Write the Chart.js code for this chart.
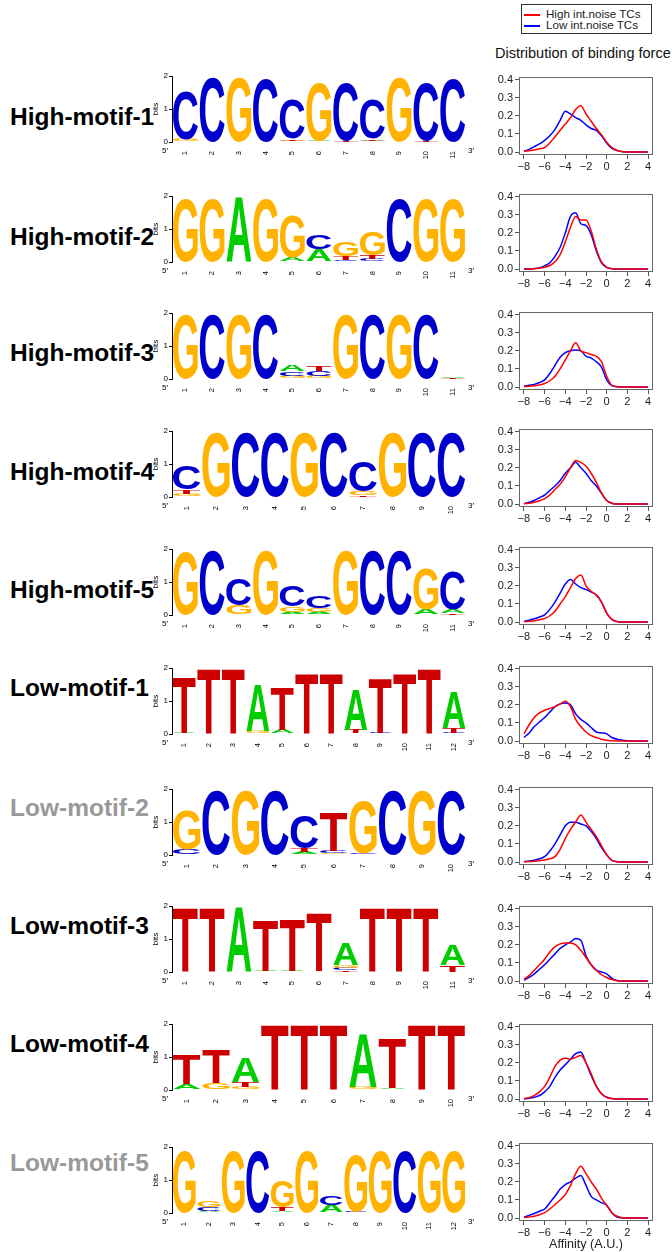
<!DOCTYPE html>
<html>
<head>
<meta charset="utf-8">
<script src="https://cdn.jsdelivr.net/npm/chart.js"></script>
<style>
  body { margin: 0; background: #fff; }
  #page { position: relative; width: 672px; height: 1252px; overflow: hidden; font-family: "Liberation Sans", Arial, sans-serif; }
  .motif { position: absolute; left: 10px; font-weight: bold; font-size: 24.5px; line-height: 28px; color: #000; white-space: nowrap; }
  .motif.gray { color: #999; }
  canvas { position: absolute; }
  #legend { position: absolute; left: 521px; top: 4px; width: 129px; height: 28px; border: 1px solid #333; font-size: 11.6px; }
  #legend div { position: absolute; left: 24px; line-height: 12px; white-space: nowrap; color: #222; }
  #legend span { position: absolute; left: -22px; top: 6px; width: 16px; height: 1.5px; }
  #distTitle { position: absolute; left: 495px; top: 44px; font-size: 14.5px; line-height: 18px; white-space: nowrap; color: #111; }
</style>
</head>
<body>
<div id="page">
  <div id="legend">
    <div style="top:3px"><span style="background:#ff0000"></span>High int.noise TCs</div>
    <div style="top:14px"><span style="background:#0000ff"></span>Low int.noise TCs</div>
  </div>
  <div id="distTitle">Distribution of binding force</div>
</div>
<script>
// ---- motif logos (bits per base, per position) ----
const BASES = ['A', 'C', 'G', 'T'];
const BASE_COLORS = { A: '#00cc00', C: '#0000cc', G: '#ffb300', T: '#cc0000' };

const motifNames = ['High-motif-1', 'High-motif-2', 'High-motif-3', 'High-motif-4', 'High-motif-5',
                    'Low-motif-1', 'Low-motif-2', 'Low-motif-3', 'Low-motif-4', 'Low-motif-5'];
const motifGray = [false, false, false, false, false, false, true, false, false, true];

const high1Bits = {
  A: [0, 0, 0, 0, 0, 0.03, 0, 0.04, 0, 0, 0],
  C: [1.47, 1.97, 0, 1.95, 1.2, 0, 1.74, 1.2, 0, 1.74, 1.95],
  G: [0.08, 0, 1.97, 0, 0.04, 1.76, 0, 0, 1.97, 0, 0],
  T: [0, 0, 0, 0, 0.05, 0, 0.03, 0.05, 0, 0.03, 0]
};
const high2Bits = {
  A: [0, 0, 1.97, 0, 0.12, 0.38, 0, 0, 0, 0, 0],
  C: [0, 0, 0, 0, 0, 0.42, 0.06, 0.08, 1.95, 0, 0],
  G: [1.95, 1.95, 0, 1.95, 1.26, 0, 0.42, 0.7, 0, 1.95, 1.95],
  T: [0, 0, 0, 0, 0, 0, 0.12, 0.13, 0, 0, 0]
};
const high3Bits = {
  A: [0, 0, 0, 0, 0.2, 0, 0, 0, 0, 0, 0.05],
  C: [0, 1.97, 0, 1.97, 0.13, 0.14, 0, 1.97, 0, 1.97, 0],
  G: [1.97, 0, 1.97, 0, 0.1, 0.1, 1.97, 0, 1.97, 0, 0],
  T: [0, 0, 0, 0, 0, 0.16, 0, 0, 0, 0, 0.03]
};
const high4Bits = {
  A: [0, 0, 0, 0, 0, 0, 0, 0, 0, 0],
  C: [0.7, 0, 1.97, 1.97, 0, 1.97, 0.93, 0, 1.97, 1.97],
  G: [0.1, 1.97, 0, 0, 1.97, 0, 0.1, 1.97, 0, 0],
  T: [0.12, 0, 0, 0, 0, 0, 0.07, 0, 0, 0]
};
const high5Bits = {
  A: [0, 0, 0, 0, 0.1, 0.09, 0, 0, 0, 0.17, 0.12],
  C: [0, 1.98, 0.8, 0, 0.65, 0.35, 0, 1.96, 1.96, 0, 1.16],
  G: [1.92, 0, 0.3, 1.96, 0.15, 0.13, 1.96, 0, 0, 1.25, 0],
  T: [0, 0, 0, 0, 0, 0, 0, 0, 0, 0, 0.05]
};
const low1Bits = {
  A: [0.04, 0, 0, 1.41, 0.12, 0.02, 0, 1.22, 0.02, 0, 0, 1.1],
  C: [0, 0, 0, 0, 0, 0, 0.02, 0.02, 0.02, 0, 0, 0.03],
  G: [0, 0, 0, 0.08, 0, 0, 0, 0, 0, 0.02, 0, 0],
  T: [1.66, 1.95, 1.95, 0, 1.27, 1.8, 1.8, 0.1, 1.63, 1.8, 1.95, 0.14]
};
const low2Bits = {
  A: [0, 0, 0, 0, 0.08, 0, 0, 0, 0, 0],
  C: [0.18, 1.96, 0, 1.96, 0.98, 0.08, 0.05, 1.96, 0, 1.96],
  G: [1.2, 0, 1.96, 0, 0, 0.05, 1.6, 0, 1.96, 0],
  T: [0, 0, 0, 0, 0.12, 1.18, 0, 0, 0, 0]
};
const low3Bits = {
  A: [0, 0, 1.98, 0.03, 0.04, 0.02, 0.68, 0, 0, 0, 0.62],
  C: [0, 0, 0, 0, 0, 0, 0.07, 0, 0, 0, 0],
  G: [0, 0, 0, 0, 0, 0, 0.09, 0, 0, 0, 0],
  T: [1.93, 1.93, 0, 1.52, 1.56, 1.76, 0.06, 1.93, 1.93, 1.93, 0.22]
};
const low4Bits = {
  A: [0.18, 0, 0.73, 0, 0, 0, 1.6, 0.06, 0, 0],
  C: [0, 0, 0, 0, 0, 0, 0, 0, 0, 0],
  G: [0, 0.21, 0.08, 0, 0, 0, 0.08, 0, 0, 0],
  T: [0.9, 1.02, 0.15, 1.96, 1.96, 1.96, 0, 1.47, 1.96, 1.96]
};
const low5Bits = {
  A: [0, 0.05, 0, 0, 0.05, 0, 0.23, 0, 0, 0, 0, 0],
  C: [0, 0.13, 0, 1.9, 0, 0, 0.27, 0.05, 0, 1.9, 0, 0],
  G: [1.9, 0.19, 1.9, 0, 0.8, 1.9, 0, 1.7, 1.9, 0, 1.9, 1.9],
  T: [0, 0, 0, 0, 0.13, 0, 0, 0, 0, 0, 0, 0]
};

// ---- binding force densities ----
const affinityX = [-8, -7.5, -7, -6.5, -6, -5.5, -5, -4.5, -4, -3.5, -3, -2.5, -2, -1.5, -1, -0.5, 0, 0.5, 1, 1.5, 2, 2.5, 3, 3.5, 4];
const affinityTicks = [-8, -6, -4, -2, 0, 2, 4];
const densityTicks = [0, 0.1, 0.2, 0.3, 0.4];

const high1HighNoise = [.005, .008, .012, .018, .025, .05, .085, .12, .155, .19, .235, .255, .21, .17, .13, .095, .055, .025, .01, .003, 0, 0, 0, 0, 0];
const high1LowNoise  = [.005, .015, .03, .045, .065, .09, .125, .175, .225, .21, .19, .175, .15, .13, .12, .09, .05, .02, .008, .002, 0, 0, 0, 0, 0];
const high2HighNoise = [0, 0, .002, .005, .01, .02, .04, .08, .15, .23, .29, .27, .27, .21, .11, .04, .01, .002, 0, 0, 0, 0, 0, 0, 0];
const high2LowNoise  = [0, 0, .003, .008, .018, .035, .07, .12, .2, .29, .31, .25, .24, .19, .1, .035, .01, .002, 0, 0, 0, 0, 0, 0, 0];
const high3HighNoise = [.003, .005, .008, .012, .02, .035, .06, .1, .15, .2, .245, .2, .19, .18, .17, .14, .06, .01, .002, 0, 0, 0, 0, 0, 0];
const high3LowNoise  = [.005, .01, .015, .025, .04, .075, .12, .165, .19, .2, .205, .2, .17, .16, .14, .11, .04, .008, .002, 0, 0, 0, 0, 0, 0];
const high4HighNoise = [.002, .005, .01, .018, .03, .05, .08, .11, .15, .2, .24, .23, .21, .17, .12, .06, .02, .005, 0, 0, 0, 0, 0, 0, 0];
const high4LowNoise  = [.003, .01, .02, .035, .05, .075, .1, .13, .17, .2, .23, .2, .17, .13, .1, .06, .02, .005, 0, 0, 0, 0, 0, 0, 0];
const high5HighNoise = [.002, .004, .008, .013, .02, .035, .06, .1, .14, .19, .24, .26, .2, .17, .15, .11, .05, .015, .003, 0, 0, 0, 0, 0, 0];
const high5LowNoise  = [.005, .01, .018, .028, .04, .07, .11, .16, .21, .235, .21, .19, .18, .165, .15, .11, .05, .015, .003, 0, 0, 0, 0, 0, 0];
const low1HighNoise  = [.04, .09, .13, .155, .17, .18, .19, .205, .22, .19, .12, .08, .05, .03, .02, .01, .005, .002, 0, 0, 0, 0, 0, 0, 0];
const low1LowNoise   = [.02, .045, .08, .105, .13, .16, .19, .205, .21, .2, .15, .12, .1, .075, .05, .045, .04, .02, .01, .005, .002, 0, 0, 0, 0];
const low2HighNoise  = [.002, .003, .005, .008, .012, .018, .03, .07, .13, .18, .22, .26, .22, .18, .14, .09, .04, .01, .002, 0, 0, 0, 0, 0, 0];
const low2LowNoise   = [.003, .006, .01, .018, .03, .06, .1, .15, .2, .22, .22, .21, .2, .17, .13, .08, .04, .01, .002, 0, 0, 0, 0, 0, 0];
const low3HighNoise  = [.01, .03, .06, .09, .12, .16, .19, .205, .21, .21, .2, .17, .13, .09, .06, .035, .02, .008, .002, 0, 0, 0, 0, 0, 0];
const low3LowNoise   = [.005, .02, .04, .065, .09, .12, .15, .18, .2, .215, .235, .225, .14, .09, .06, .05, .04, .015, .003, 0, 0, 0, 0, 0, 0];
const low4HighNoise  = [.003, .008, .02, .04, .07, .12, .18, .215, .225, .22, .23, .24, .2, .14, .07, .03, .01, .003, 0, 0, 0, 0, 0, 0, 0];
const low4LowNoise   = [.001, .004, .01, .02, .04, .07, .12, .16, .19, .22, .25, .26, .2, .13, .07, .03, .01, .003, 0, 0, 0, 0, 0, 0, 0];
const low5HighNoise  = [.003, .006, .01, .018, .03, .05, .075, .1, .13, .18, .245, .285, .245, .2, .16, .11, .07, .03, .01, .002, 0, 0, 0, 0, 0];
const low5LowNoise   = [.005, .015, .025, .038, .05, .085, .12, .16, .185, .2, .22, .235, .18, .12, .1, .085, .07, .03, .006, .001, 0, 0, 0, 0, 0];

const motifBits = [high1Bits, high2Bits, high3Bits, high4Bits, high5Bits, low1Bits, low2Bits, low3Bits, low4Bits, low5Bits];
const highNoiseCurves = [high1HighNoise, high2HighNoise, high3HighNoise, high4HighNoise, high5HighNoise,
                         low1HighNoise, low2HighNoise, low3HighNoise, low4HighNoise, low5HighNoise];
const lowNoiseCurves = [high1LowNoise, high2LowNoise, high3LowNoise, high4LowNoise, high5LowNoise,
                        low1LowNoise, low2LowNoise, low3LowNoise, low4LowNoise, low5LowNoise];

// layout of the rows (pixel positions in the page)
const logoTop = [76, 196, 313, 431, 549, 668, 789, 906, 1024, 1147];   // y of the "2 bits" line
const densityZero = [152, 269, 387, 504, 622, 741, 862, 981, 1099, 1218]; // y of density 0.0
const labelCenter = [117, 237, 353, 472, 590, 688, 808, 926, 1044, 1163];

const page = document.getElementById('page');
const FONT = '"Liberation Sans", Arial, sans-serif';

function makeCanvas(left, top, w, h) {
  const c = document.createElement('canvas');
  c.width = w; c.height = h;
  c.style.left = left + 'px'; c.style.top = top + 'px';
  c.style.width = w + 'px'; c.style.height = h + 'px';
  page.appendChild(c);
  return c;
}

// draws the letter glyph stretched into the bar box
function drawLetter(ctx, ch, x0, y0, w, h) {
  ctx.save();
  ctx.font = 'bold 200px ' + FONT;
  ctx.textBaseline = 'alphabetic';
  ctx.textAlign = 'left';
  const m = ctx.measureText(ch);
  const gl = m.actualBoundingBoxLeft;
  const gw = gl + m.actualBoundingBoxRight;
  const ga = m.actualBoundingBoxAscent;
  const gh = ga + m.actualBoundingBoxDescent;
  ctx.translate(x0, y0);
  ctx.scale(w / gw, h / gh);
  ctx.fillStyle = BASE_COLORS[ch];
  ctx.fillText(ch, gl, ga);
  ctx.restore();
}

const logoLetters = {
  id: 'logoLetters',
  afterDatasetsDraw(chart) {
    const ctx = chart.ctx;
    chart.data.datasets.forEach((ds, i) => {
      const meta = chart.getDatasetMeta(i);
      meta.data.forEach((bar, j) => {
        const p = bar.getProps(['x', 'y', 'base', 'width'], true);
        const h = p.base - p.y;
        if (h < 0.3) return;
        drawLetter(ctx, ds.letters[j], p.x - p.width / 2, p.y, p.width, h);
      });
    });
  },
  afterDraw(chart) {
    const ctx = chart.ctx, a = chart.chartArea;
    ctx.save();
    ctx.fillStyle = '#000';
    ctx.font = '8px ' + FONT;
    ctx.textBaseline = 'middle';
    ctx.textAlign = 'right';
    ctx.fillText("5\u2032", a.left - 4, a.bottom + 9);
    ctx.textAlign = 'left';
    ctx.fillText("3\u2032", a.right + 2, a.bottom + 9);
    ctx.restore();
  }
};

function buildLogo(idx) {
  const bits = motifBits[idx];
  const n = bits.A.length;
  const labels = Array.from({ length: n }, (_, j) => String(j + 1));
  // stack each column smallest at the bottom, largest on top
  const layers = [0, 1, 2, 3].map(() => ({ data: [], letters: [] }));
  for (let j = 0; j < n; j++) {
    const col = BASES.map(b => ({ b, v: bits[b][j] })).sort((p, q) => p.v - q.v);
    col.forEach((c, k) => { layers[k].data.push(c.v); layers[k].letters.push(c.b); });
  }
  const canvas = makeCanvas(148, logoTop[idx] - 8, 332, 100);
  new Chart(canvas, {
    type: 'bar',
    data: {
      labels,
      datasets: layers.map(l => ({
        data: l.data, letters: l.letters,
        backgroundColor: 'rgba(0,0,0,0)', borderWidth: 0,
        barPercentage: 0.93, categoryPercentage: 1
      }))
    },
    options: {
      responsive: false, animation: false,
      layout: { padding: { top: 8, right: 14, left: 0, bottom: 0 } },
      plugins: { legend: { display: false }, tooltip: { enabled: false } },
      scales: {
        x: {
          stacked: true,
          afterFit: s => { s.height = 26; },
          grid: { display: false }, border: { display: false },
          ticks: { minRotation: 90, maxRotation: 90, autoSkip: false, padding: 1, color: '#000', font: { size: 7.5, family: FONT } }
        },
        y: {
          stacked: true, min: 0, max: 2,
          afterFit: s => { s.width = 24; },
          afterBuildTicks: s => { s.ticks = [0, 1, 2].map(v => ({ value: v })); },
          grid: { drawOnChartArea: false, tickLength: 3, color: '#000' },
          border: { display: true, color: '#000' },
          ticks: { padding: 1, color: '#000', font: { size: 8, family: FONT } },
          title: { display: true, text: 'bits', color: '#000', padding: { top: 3, bottom: 0 }, font: { size: 8, family: FONT } }
        }
      }
    },
    plugins: [logoLetters]
  });
}

const frameBox = {
  id: 'frameBox',
  afterDraw(chart) {
    const a = chart.chartArea, ctx = chart.ctx;
    ctx.save();
    ctx.strokeStyle = '#666';
    ctx.lineWidth = 1;
    ctx.strokeRect(Math.round(a.left) + 0.5, Math.round(a.top) + 0.5, Math.round(a.right - a.left) - 1, Math.round(a.bottom - a.top) - 1);
    ctx.restore();
  }
};

const fmtMinus = v => (v < 0 ? '\u2212' + Math.abs(v) : String(v));

function buildDensity(idx) {
  const last = idx === motifNames.length - 1;
  const pxPerUnit = 191.7;
  const frameTop = Math.round(densityZero[idx] - 0.416 * pxPerUnit);
  const frameH = Math.round(0.432 * pxPerUnit);
  const axisH = last ? 31 : 22;
  const canvas = makeCanvas(480, frameTop - 4, 192, 4 + frameH + axisH);
  const toPts = arr => affinityX.map((x, i) => ({ x, y: arr[i] }));
  new Chart(canvas, {
    type: 'line',
    data: {
      datasets: [
        { data: toPts(highNoiseCurves[idx]), borderColor: '#ff0000', borderWidth: 1.5, pointRadius: 0, cubicInterpolationMode: 'monotone', fill: false },
        { data: toPts(lowNoiseCurves[idx]), borderColor: '#0000ff', borderWidth: 1.5, pointRadius: 0, cubicInterpolationMode: 'monotone', fill: false }
      ]
    },
    options: {
      responsive: false, animation: false,
      layout: { padding: { top: 4, right: 19, left: 0, bottom: 0 } },
      plugins: { legend: { display: false }, tooltip: { enabled: false } },
      scales: {
        x: {
          type: 'linear', min: -8.48, max: 4.48,
          afterFit: s => { s.height = axisH; },
          afterBuildTicks: s => { s.ticks = affinityTicks.map(v => ({ value: v })); },
          grid: { drawOnChartArea: false, tickLength: 4, color: '#555' },
          border: { display: false },
          ticks: { padding: 1, maxRotation: 0, autoSkip: false, color: '#222', font: { size: 11, family: FONT }, callback: fmtMinus },
          title: { display: last, text: 'Affinity (A.U.)', color: '#222', padding: { top: 0, bottom: 0 }, font: { size: 12.6, family: FONT } }
        },
        y: {
          min: -0.016, max: 0.416,
          afterFit: s => { s.width = 39; },
          afterBuildTicks: s => { s.ticks = densityTicks.map(v => ({ value: v })); },
          grid: { drawOnChartArea: false, tickLength: 4, color: '#555' },
          border: { display: false },
          ticks: { padding: 2, color: '#222', font: { size: 11, family: FONT }, callback: v => v.toFixed(1) }
        }
      }
    },
    plugins: [frameBox]
  });
}

motifNames.forEach((name, i) => {
  const d = document.createElement('div');
  d.className = 'motif' + (motifGray[i] ? ' gray' : '');
  d.style.top = (labelCenter[i] - 14) + 'px';
  d.textContent = name;
  page.appendChild(d);
  buildLogo(i);
  buildDensity(i);
});
</script>
</body>
</html>
